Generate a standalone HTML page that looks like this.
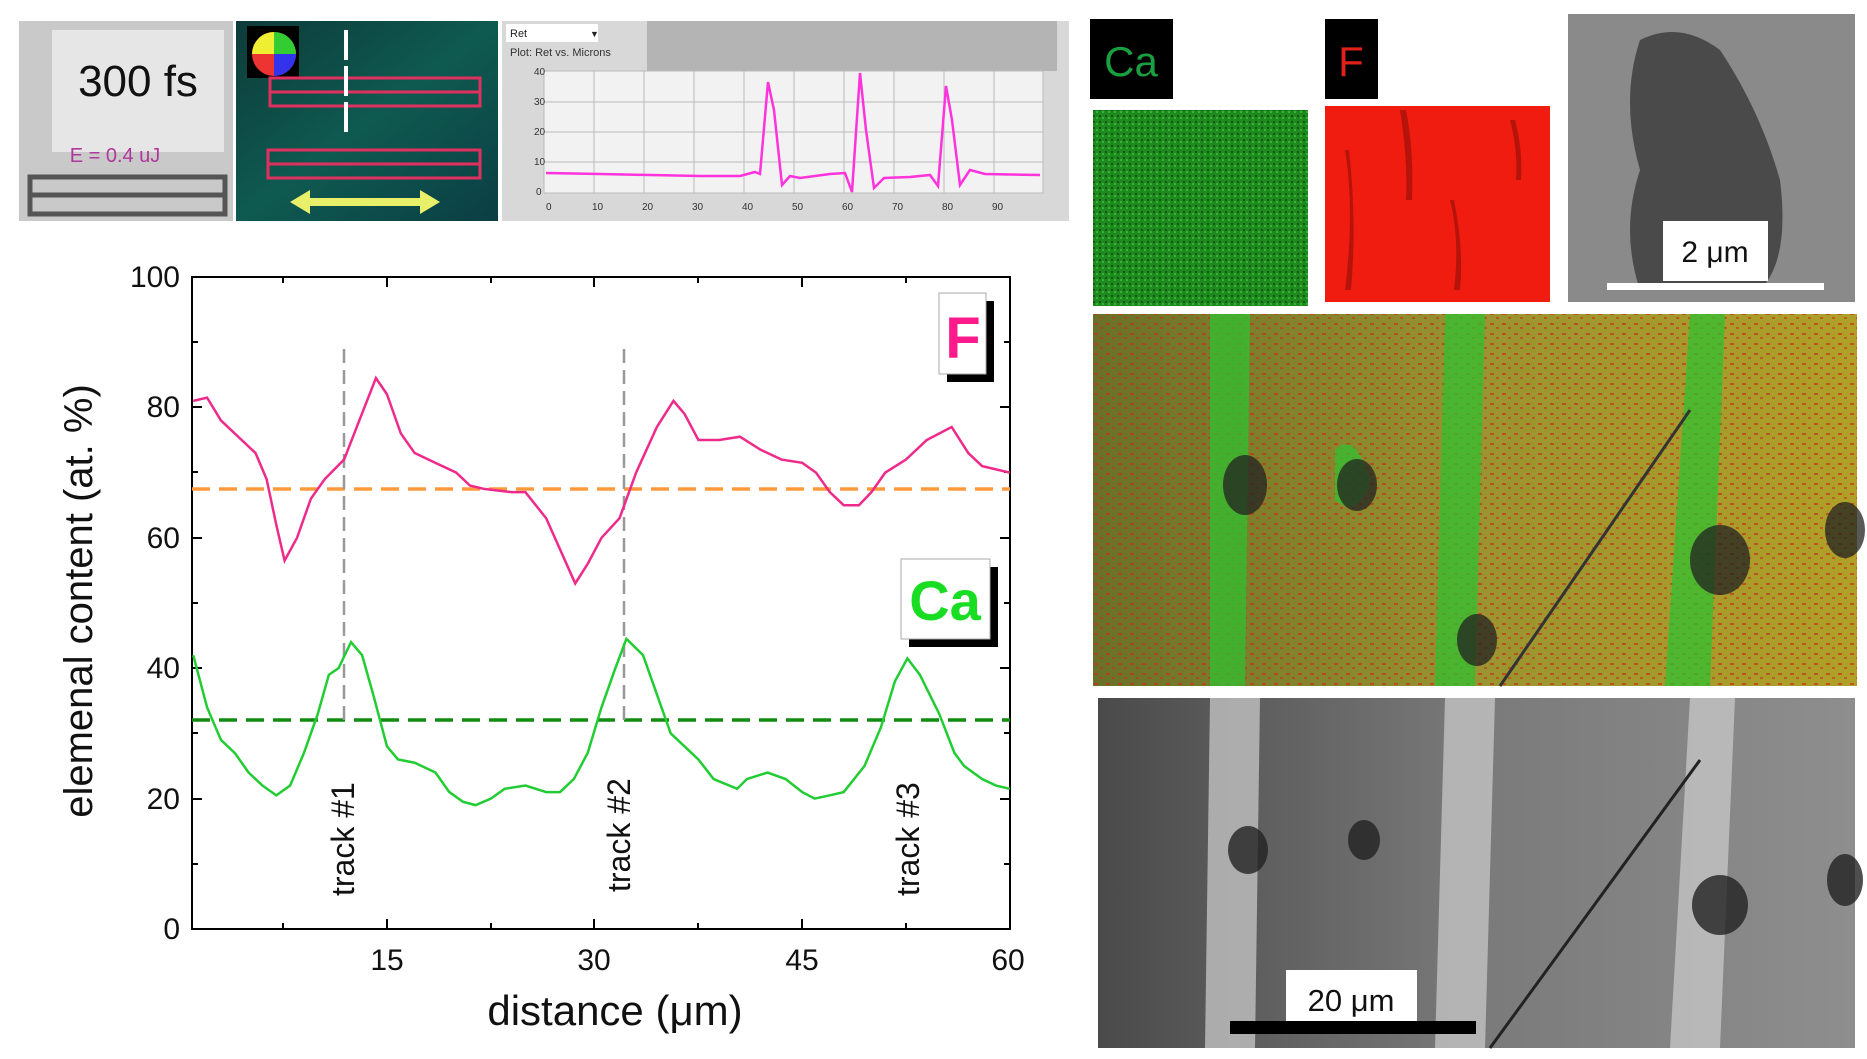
<!DOCTYPE html>
<html><head><meta charset="utf-8"><style>
html,body{margin:0;padding:0;background:#fff;}
svg{display:block;}
text{font-family:"Liberation Sans",sans-serif;}
</style></head><body>
<svg width="1867" height="1059" viewBox="0 0 1867 1059" xmlns="http://www.w3.org/2000/svg">
<defs>
<linearGradient id="teal" x1="0" y1="0" x2="1" y2="1"><stop offset="0" stop-color="#0d3b3a"/><stop offset="0.5" stop-color="#0f5a50"/><stop offset="1" stop-color="#0b3e44"/></linearGradient>
<linearGradient id="gsem" x1="0" y1="0" x2="1" y2="0"><stop offset="0" stop-color="#4a4a4a"/><stop offset="0.5" stop-color="#7a7a7a"/><stop offset="1" stop-color="#8e8e8e"/></linearGradient>
<linearGradient id="comp" x1="0" y1="0" x2="1" y2="0"><stop offset="0" stop-color="#6a7028"/><stop offset="0.5" stop-color="#9a9430"/><stop offset="1" stop-color="#b0a028"/></linearGradient>
<pattern id="redsp" width="12" height="10" patternUnits="userSpaceOnUse"><rect x="2" y="3" width="4" height="2" fill="#c8321a" opacity="0.7"/><rect x="8" y="7" width="3" height="2" fill="#c8321a" opacity="0.6"/></pattern>
<pattern id="grnsp" width="6" height="6" patternUnits="userSpaceOnUse"><rect width="6" height="6" fill="#1e8a1e"/><rect x="1" y="1" width="2" height="2" fill="#0f5a10"/><rect x="4" y="3" width="2" height="2" fill="#36b336"/></pattern>
</defs>

<rect x="19" y="21" width="214" height="200" fill="#c9c9c9"/>
<rect x="52" y="30" width="172" height="122" fill="#e6e6e6"/>
<text x="138" y="96" font-size="44" text-anchor="middle" fill="#111">300 fs</text>
<text x="115" y="162" font-size="20" text-anchor="middle" fill="#b0389a">E = 0.4 uJ</text>
<rect x="30" y="177" width="195" height="37" fill="none" stroke="#555" stroke-width="5"/>
<line x1="30" y1="195" x2="225" y2="195" stroke="#555" stroke-width="5"/>
<rect x="236" y="21" width="262" height="200" fill="url(#teal)"/>
<rect x="247" y="26" width="52" height="52" fill="#000"/>
<circle cx="274" cy="54" r="22" fill="#e33"/><path d="M274 54 L274 32 A22 22 0 0 1 296 54Z" fill="#3c3"/><path d="M274 54 L296 54 A22 22 0 0 1 274 76Z" fill="#33e"/><path d="M274 54 L252 54 A22 22 0 0 1 274 32Z" fill="#ee3"/>
<rect x="270" y="78" width="210" height="14" fill="none" stroke="#e03060" stroke-width="3"/>
<rect x="270" y="92" width="210" height="14" fill="none" stroke="#e03060" stroke-width="3"/>
<rect x="268" y="150" width="212" height="14" fill="none" stroke="#e03060" stroke-width="3"/>
<rect x="268" y="164" width="212" height="14" fill="none" stroke="#e03060" stroke-width="3"/>
<line x1="346" y1="30" x2="346" y2="136" stroke="#fff" stroke-width="4" stroke-dasharray="30 6"/>
<polygon points="290,202 310,190 310,198 420,198 420,190 440,202 420,214 420,206 310,206 310,214" fill="#e8f06a"/>
<rect x="502" y="21" width="567" height="200" fill="#d8d8d8"/>
<rect x="647" y="21" width="410" height="50" fill="#b4b4b4"/>
<rect x="506" y="24" width="92" height="18" fill="#fff"/>
<text x="510" y="37" font-size="11" fill="#222" font-family="Liberation Serif">Ret</text>
<text x="590" y="37" font-size="9" fill="#222">▼</text>
<text x="510" y="56" font-size="11" fill="#333" font-family="Liberation Serif">Plot: Ret vs. Microns</text>
<rect x="544" y="71" width="499" height="122" fill="#f2f2f2" stroke="#bbb"/>
<g stroke="#bbb" stroke-width="1">
<line x1="544" y1="102" x2="1043" y2="102"/><line x1="544" y1="132" x2="1043" y2="132"/><line x1="544" y1="162" x2="1043" y2="162"/>
<line x1="594" y1="71" x2="594" y2="193"/><line x1="644" y1="71" x2="644" y2="193"/><line x1="694" y1="71" x2="694" y2="193"/><line x1="744" y1="71" x2="744" y2="193"/><line x1="794" y1="71" x2="794" y2="193"/><line x1="844" y1="71" x2="844" y2="193"/><line x1="894" y1="71" x2="894" y2="193"/><line x1="944" y1="71" x2="944" y2="193"/><line x1="994" y1="71" x2="994" y2="193"/>
</g>
<polyline fill="none" stroke="#ff33dd" stroke-width="2.5" points="546,173 600,174 650,175 700,176 740,176 755,172 760,174 768,82 774,110 782,185 790,176 800,178 830,174 845,173 852,192 860,73 866,130 874,188 884,178 910,177 930,175 938,186 946,86 952,120 960,185 970,170 985,174 1040,175"/>
<g font-size="10" fill="#333" font-family="Liberation Serif">
<text x="534" y="75">40</text><text x="534" y="105">30</text><text x="534" y="135">20</text><text x="534" y="165">10</text><text x="536" y="195">0</text>
<text x="546" y="210">0</text><text x="592" y="210">10</text><text x="642" y="210">20</text><text x="692" y="210">30</text><text x="742" y="210">40</text><text x="792" y="210">50</text><text x="842" y="210">60</text><text x="892" y="210">70</text><text x="942" y="210">80</text><text x="992" y="210">90</text>
</g>

<rect x="1090" y="19" width="83" height="80" fill="#000"/>
<text x="1131" y="76" font-size="42" text-anchor="middle" fill="#18a040">Ca</text>
<rect x="1093" y="110" width="215" height="196" fill="url(#grnsp)"/>
<rect x="1325" y="19" width="53" height="80" fill="#000"/>
<text x="1351" y="76" font-size="42" text-anchor="middle" fill="#e0201a">F</text>
<rect x="1325" y="106" width="225" height="196" fill="#f01c10"/>
<g fill="#a8120a" opacity="0.8"><path d="M1345 150 q10 60 0 140 l6 0 q6 -70 -2 -140z"/><path d="M1400 110 q8 50 6 90 l6 0 q2 -50 -6 -90z"/><path d="M1450 200 q10 40 4 90 l6 0 q4 -40 -6 -90z"/><path d="M1510 120 q8 30 6 60 l5 0 q2 -30 -6 -60z"/></g>
<rect x="1568" y="14" width="287" height="288" fill="#8a8a8a"/>
<path d="M1640 40 q40 -20 80 10 q40 60 60 130 q10 80 -20 110 l-120 0 q-20 -60 0 -120 q-20 -70 0 -130z" fill="#4a4a4a"/>
<rect x="1663" y="221" width="105" height="60" fill="#fff"/>
<text x="1715" y="262" font-size="30" text-anchor="middle" fill="#111">2 μm</text>
<rect x="1607" y="283" width="217" height="7" fill="#fff"/>
<rect x="1093" y="314" width="764" height="372" fill="url(#comp)"/>
<rect x="1093" y="314" width="764" height="372" fill="url(#redsp)"/>
<g fill="#30c030" opacity="0.75"><path d="M1210 314 l40 0 l-5 372 l-35 0z"/><path d="M1445 314 l40 0 l-10 372 l-40 0z"/><path d="M1690 314 l35 0 l-15 372 l-45 0z"/><path d="M1335 450 q20 -20 35 30 q-10 40 -35 20z"/></g>
<g fill="#222" opacity="0.75"><ellipse cx="1245" cy="485" rx="22" ry="30"/><ellipse cx="1357" cy="485" rx="20" ry="26"/><ellipse cx="1477" cy="640" rx="20" ry="26"/><ellipse cx="1720" cy="560" rx="30" ry="35"/><ellipse cx="1845" cy="530" rx="20" ry="28"/></g>
<line x1="1500" y1="686" x2="1690" y2="410" stroke="#333" stroke-width="3"/>
<rect x="1098" y="698" width="757" height="350" fill="url(#gsem)"/>
<g fill="#c8c8c8" opacity="0.75"><path d="M1210 698 l50 0 l-5 350 l-50 0z"/><path d="M1445 698 l50 0 l-10 350 l-50 0z"/><path d="M1690 698 l45 0 l-15 350 l-50 0z"/></g>
<g fill="#222" opacity="0.8"><ellipse cx="1248" cy="850" rx="20" ry="24"/><ellipse cx="1364" cy="840" rx="16" ry="20"/><ellipse cx="1720" cy="905" rx="28" ry="30"/><ellipse cx="1845" cy="880" rx="18" ry="26"/></g>
<line x1="1490" y1="1048" x2="1700" y2="760" stroke="#222" stroke-width="3"/>
<rect x="1286" y="970" width="131" height="54" fill="#fff"/>
<text x="1351" y="1011" font-size="31" text-anchor="middle" fill="#111">20 μm</text>
<rect x="1230" y="1021" width="246" height="13" fill="#000"/>

<g stroke="#000" stroke-width="2" fill="none">
<rect x="192" y="277" width="818" height="652"/>
</g>
<g stroke="#000" stroke-width="2">
<line x1="387" y1="929" x2="387" y2="919"/><line x1="594" y1="929" x2="594" y2="919"/><line x1="802" y1="929" x2="802" y2="919"/>
<line x1="283" y1="929" x2="283" y2="923"/><line x1="491" y1="929" x2="491" y2="923"/><line x1="698" y1="929" x2="698" y2="923"/><line x1="906" y1="929" x2="906" y2="923"/>
<line x1="387" y1="277" x2="387" y2="287"/><line x1="594" y1="277" x2="594" y2="287"/><line x1="802" y1="277" x2="802" y2="287"/>
<line x1="283" y1="277" x2="283" y2="283"/><line x1="491" y1="277" x2="491" y2="283"/><line x1="698" y1="277" x2="698" y2="283"/><line x1="906" y1="277" x2="906" y2="283"/>
<line x1="192" y1="799" x2="202" y2="799"/><line x1="192" y1="668" x2="202" y2="668"/><line x1="192" y1="538" x2="202" y2="538"/><line x1="192" y1="407" x2="202" y2="407"/>
<line x1="192" y1="864" x2="198" y2="864"/><line x1="192" y1="733" x2="198" y2="733"/><line x1="192" y1="603" x2="198" y2="603"/><line x1="192" y1="472" x2="198" y2="472"/><line x1="192" y1="342" x2="198" y2="342"/>
<line x1="1010" y1="799" x2="1000" y2="799"/><line x1="1010" y1="668" x2="1000" y2="668"/><line x1="1010" y1="538" x2="1000" y2="538"/><line x1="1010" y1="407" x2="1000" y2="407"/>
<line x1="1010" y1="864" x2="1004" y2="864"/><line x1="1010" y1="733" x2="1004" y2="733"/><line x1="1010" y1="603" x2="1004" y2="603"/><line x1="1010" y1="472" x2="1004" y2="472"/><line x1="1010" y1="342" x2="1004" y2="342"/>
</g>
<g font-size="30" fill="#111" text-anchor="end">
<text x="180" y="939">0</text><text x="180" y="809">20</text><text x="180" y="678">40</text><text x="180" y="548">60</text><text x="180" y="417">80</text><text x="180" y="287">100</text>
</g>
<g font-size="30" fill="#111" text-anchor="middle">
<text x="387" y="970">15</text><text x="594" y="970">30</text><text x="802" y="970">45</text><text x="1008" y="970">60</text>
</g>
<text x="615" y="1025" font-size="42" text-anchor="middle" fill="#111">distance (μm)</text>
<text transform="translate(92,601) rotate(-90)" font-size="40" text-anchor="middle" fill="#111">elemenal content (at. %)</text>

<line x1="192" y1="489" x2="1010" y2="489" stroke="#ff9a3c" stroke-width="3.5" stroke-dasharray="18 9"/>
<line x1="192" y1="720" x2="1010" y2="720" stroke="#118a11" stroke-width="3.5" stroke-dasharray="18 9"/>
<line x1="344" y1="349" x2="344" y2="720" stroke="#999" stroke-width="2.5" stroke-dasharray="14 7"/>
<line x1="624" y1="349" x2="624" y2="720" stroke="#999" stroke-width="2.5" stroke-dasharray="14 7"/>

<g transform="translate(179.4,929) scale(13.84,-6.52)" fill="none">
<polyline vector-effect="non-scaling-stroke" stroke="#ee2a8a" stroke-width="2.5" points="1,81 2,81.5 3,78 4.5,75 5.5,73 6.3,69 7,62 7.6,56.5 8.5,60 9.5,66 10.5,69 11.9,72 13,78 14.2,84.5 15,82 16,76 17,73 18.5,71.5 20,70 21,68 22,67.5 24,67 25,67 26.5,63 28.6,53 29.5,56 30.5,60 31.8,63 33,70 34.5,77 35.7,81 36.5,79 37.5,75 39,75 40.5,75.5 42,73.5 43.5,72 45,71.5 46,70 47,67 48,65 49.1,65 50,67 51,70 52.5,72 54,75 55.8,77 57,73 58,71 60,70"/>
<polyline vector-effect="non-scaling-stroke" stroke="#22cc33" stroke-width="2.5" points="1,42 2,34 3,29 4,27 5,24 6,22 7,20.5 8,22 9,27 10,33 10.8,39 11.5,40 12.4,44 13.2,42 14,36 15,28 15.8,26 17,25.5 18.5,24 19.5,21 20.5,19.5 21.4,19 22.5,20 23.5,21.5 25,22 26.5,21 27.5,21 28.5,23 29.5,27 30.5,34 31.5,40 32.3,44.5 33.5,42 34.5,36 35.5,30 36.5,28 37.5,26 38.6,23 40.3,21.5 41,23 42.5,24 43.8,23 45,21 45.9,20 47,20.5 48,21 49.5,25 50.7,31 51.7,38 52.6,41.5 53.5,39 54.9,33 56,27 56.7,25 58,23 59,22 60,21.5"/>
</g>

<g font-size="32" fill="#111">
<text transform="translate(354,896) rotate(-90)">track #1</text>
<text transform="translate(630,892) rotate(-90)">track #2</text>
<text transform="translate(919,896) rotate(-90)">track #3</text>
</g>

<rect x="947" y="301" width="47" height="81" fill="#000"/>
<rect x="939" y="293" width="47" height="81" fill="#fff" stroke="#aaa"/>
<text x="963" y="358" font-size="58" font-weight="bold" text-anchor="middle" fill="#ff1a8c">F</text>
<rect x="909" y="567" width="89" height="80" fill="#000"/>
<rect x="901" y="559" width="89" height="80" fill="#fff" stroke="#aaa"/>
<text x="945" y="620" font-size="56" font-weight="bold" text-anchor="middle" fill="#18dd22">Ca</text>
</svg>
</body></html>
